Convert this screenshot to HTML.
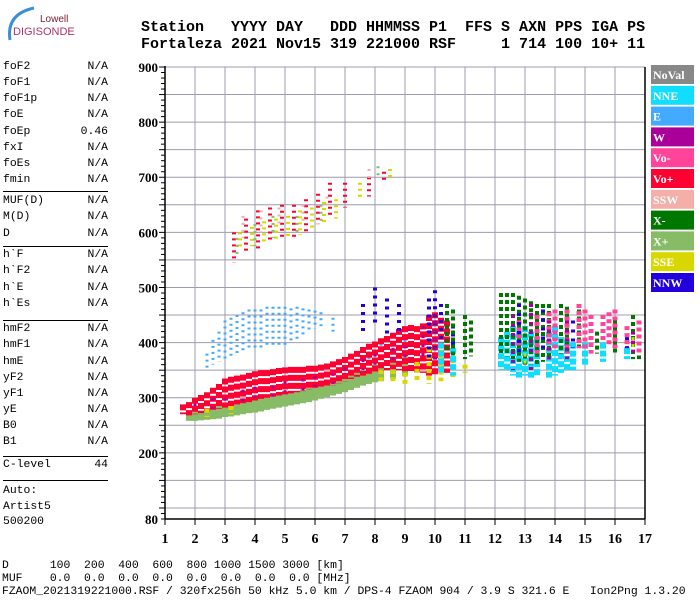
<!DOCTYPE html>
<html><head><meta charset="utf-8">
<style>
body{margin:0;background:#fff;}
#root{position:relative;width:700px;height:600px;overflow:hidden;background:#fff;font-family:"Liberation Mono",monospace;}
.t{position:absolute;white-space:pre;}
.hdr{font:bold 15px "Liberation Mono",monospace;color:#000;}
.lp{font-size:11.4px;color:#000;}
.bt{font-size:11.4px;color:#000;}
</style></head>
<body>
<div id="root">
<svg width="700" height="600" style="position:absolute;left:0;top:0" id="svg">
  <g>
    <path d="M10,40 Q6,14 34,8" stroke="#3a8fd8" stroke-width="3" fill="none"/>
    <text x="40" y="22" font-family="Liberation Sans,sans-serif" font-size="10" fill="#7a2033">Lowell</text>
    <text x="13" y="35" font-family="Liberation Sans,sans-serif" font-size="11" fill="#b0306a">DIGISONDE</text>
  </g>
</svg>
<div class="t hdr" style="left:141px;top:19px">Station   YYYY DAY   DDD HHMMSS P1  FFS S AXN PPS IGA PS</div>
<div class="t hdr" style="left:141px;top:36px">Fortaleza 2021 Nov15 319 221000 RSF     1 714 100 10+ 11</div>
<div id="left"></div>
<div class="t bt" style="left:2px;top:560px">D      100  200  400  600  800 1000 1500 3000 [km]</div>
<div class="t bt" style="left:2px;top:573px">MUF    0.0  0.0  0.0  0.0  0.0  0.0  0.0  0.0 [MHz]</div>
<div class="t bt" style="left:2px;top:586px">FZAOM_2021319221000.RSF / 320fx256h 50 kHz 5.0 km / DPS-4 FZAOM 904 / 3.9 S 321.6 E   Ion2Png 1.3.20</div>
</div>
<script>
// ---- data ----
const xTicks=[1,2,3,4,5,6,7,8,9,10,11,12,13,14,15,16,17];
const yTickLabels=[900,800,700,600,500,400,300,200,80];
const legendNames=["NoVal","NNE","E","W","Vo-","Vo+","SSW","X-","X+","SSE","NNW"];
const legendColors=["#888888","#11ddff","#44aaff","#aa0099","#ff4499","#ff0033","#f4b0a8","#007700","#88bb66","#d8d800","#2200dd"];
const paramNames=["foF2","foF1","foF1p","foE","foEp","fxI","foEs","fmin","MUF(D)","M(D)","D","h`F","h`F2","h`E","h`Es","hmF2","hmF1","hmE","yF2","yF1","yE","B0","B1","C-level"];
const paramValues=["N/A","N/A","N/A","N/A","0.46","N/A","N/A","N/A","N/A","N/A","N/A","N/A","N/A","N/A","N/A","N/A","N/A","N/A","N/A","N/A","N/A","N/A","N/A","44"];
// echo columns: [freq MHz, low km, high km]
const eCloud=[[2.4,350,380],[2.6,360,405],[2.8,365,420],[3,370,440],[3.2,375,445],[3.4,380,450],[3.6,380,455],[3.8,385,460],[4,385,460],[4.2,390,460],[4.4,390,465],[4.6,392,465],[4.8,395,465],[5,395,465],[5.2,398,462],[5.4,400,465],[5.6,410,462],[5.8,420,460],[6,425,458],[6.2,430,455],[6.6,420,445],[7.8,370,395],[8.2,372,398],[8.6,378,402],[9,380,405]];
const xPlusMain=[[1.8,258,275],[2,258,275],[2.2,259,277],[2.4,260,280],[2.6,261,282],[2.8,262,285],[3,265,290],[3.2,266,291],[3.4,268,292],[3.6,270,294],[3.8,272,295],[4,273,298],[4.2,275,300],[4.4,278,302],[4.6,280,305],[4.8,282,308],[5,284,310],[5.2,286,311],[5.4,288,312],[5.6,290,315],[5.8,292,318],[6,295,320],[6.2,298,322],[6.4,301,326],[6.6,304,330],[6.8,307,334],[7,310,338],[7.2,314,342],[7.4,318,345],[7.6,322,350],[7.8,325,355],[8,328,360],[8.2,330,365],[8.6,335,370],[9,340,375]];
const voPlusMain=[[1.6,270,288],[1.8,268,292],[2,270,300],[2.2,272,305],[2.4,275,310],[2.6,278,318],[2.8,280,325],[3,282,335],[3.2,285,338],[3.4,288,340],[3.6,290,342],[3.8,292,345],[4,295,348],[4.2,298,350],[4.4,300,350],[4.6,302,352],[4.8,304,354],[5,306,355],[5.2,308,356],[5.4,310,356],[5.6,312,356],[5.8,314,358],[6,316,358],[6.2,318,360],[6.4,320,362],[6.6,322,366],[6.8,326,370],[7,330,374],[7.2,334,380],[7.4,338,385],[7.6,340,392],[7.8,342,398],[8,345,402],[8.2,348,408],[8.4,350,412],[8.6,352,418],[8.8,350,425],[9,348,430],[9.2,345,432],[9.4,345,430],[9.6,345,435],[9.8,340,450],[10,340,455],[10.2,345,445],[10.4,345,440]];
const wMain=[[2,275,290],[2.6,280,300],[3,285,300],[3.6,290,315],[4,300,320],[4.6,302,322],[5,310,330],[5.6,312,335],[6,320,340],[6.6,325,345],[7,340,355],[7.6,350,370],[8,360,380],[8.6,365,390],[9,370,395],[9.6,370,430]];
const sseMain=[[2.4,265,280],[3.2,270,285],[8.2,330,350],[8.6,330,350],[9,325,345],[9.4,328,365],[9.8,325,390],[10.2,330,400],[10.6,335,370],[11,345,360]];
const nnwMid=[[7.6,420,470],[8,430,500],[8.4,410,480],[8.8,420,470],[9.8,370,480],[10,380,495],[10.2,380,470],[10.6,380,460]];
const nneRight=[[10.2,345,400],[10.6,340,390],[12.2,350,410],[12.4,350,420],[12.6,340,430],[12.8,335,420],[13,340,430],[13.2,335,420],[13.4,340,410],[13.8,335,420],[14,340,430],[14.2,345,410],[14.4,348,405],[14.6,350,400],[15,360,400],[15.6,365,400],[16.4,370,390]];
const xMinusRight=[[10.4,380,470],[10.6,375,460],[11,370,450],[11.2,375,440],[12.2,380,490],[12.4,375,490],[12.6,370,490],[12.8,365,485],[13,360,480],[13.2,360,475],[13.4,360,470],[13.6,365,470],[13.8,370,470],[14.2,380,470],[14.4,380,465],[14.8,390,460],[15.4,380,420],[16,380,440],[16.6,370,450],[16.8,370,440]];
const voMinusRight=[[12.8,390,440],[13.4,380,450],[13.8,385,455],[14,390,460],[14.4,380,460],[14.8,390,470],[15,385,460],[15.2,380,450],[15.6,400,450],[15.8,395,455],[16,390,460],[16.4,390,430],[16.8,380,440]];
const wRight=[[10,360,440],[12.6,350,450],[13.2,350,470],[13.8,360,440],[14.4,370,440],[16.6,380,420]];
const nnwRight=[[12.8,380,470],[13.6,380,460],[14.6,390,440],[16.4,390,410]];
const sseRight=[[13,360,380],[16.6,390,410]];
const voPlusUpper=[[3.3,545,600],[3.7,560,625],[4.1,570,640],[4.5,580,645],[4.9,585,650],[5.3,590,650],[5.7,600,660],[6.1,615,670],[6.5,625,690],[7,645,690],[7.8,665,700],[8.3,690,710]];
const sseUpper=[[3.5,570,600],[3.9,575,610],[4.3,580,620],[4.7,585,625],[5.1,590,630],[5.5,595,640],[5.9,605,645],[6.3,615,655],[6.7,625,660],[7.5,660,690],[8.5,700,715]];
const ssWUpper=[[3.6,590,630],[4.2,600,640],[4.8,610,645],[5.6,620,650],[6.4,640,665],[7.8,690,715]];
const xPlusUpper=[[3.4,560,590],[4,575,615],[4.6,590,630],[5.4,600,630],[6.2,620,650],[8.1,700,720]];

const layers=[
 {d:eCloud,c:"#44aaff",dash:"2 4",w:3},
 {d:voPlusUpper,c:"#ff0033",dash:"2 4",w:4},
 {d:sseUpper,c:"#d8d800",dash:"2 4",w:4},
 {d:ssWUpper,c:"#f4b0a8",dash:"2 5",w:3},
 {d:xPlusUpper,c:"#88bb66",dash:"2 5",w:3},
 {d:xPlusMain,c:"#88bb66",dash:"",w:6},
 {d:voPlusMain,c:"#ff0033",dash:"6 2",w:6},
 {d:wMain,c:"#aa0099",dash:"3 6",w:3},
 {d:sseMain,c:"#d8d800",dash:"4 3",w:5},
 {d:nnwMid,c:"#2200dd",dash:"3 5",w:4},
 {d:nneRight,c:"#11ddff",dash:"6 2",w:6},
 {d:xMinusRight,c:"#007700",dash:"4 3",w:4},
 {d:voMinusRight,c:"#ff4499",dash:"4 3",w:5},
 {d:wRight,c:"#aa0099",dash:"3 6",w:4},
 {d:nnwRight,c:"#2200dd",dash:"3 6",w:4},
 {d:sseRight,c:"#d8d800",dash:"3 4",w:3}
];
// ---- scales ----
const X0=165,X1=645,YB=519,YT=67;
const fx=f=>X0+(f-1)*(X1-X0)/16;
const hy=h=>YB-(h-80)*(YB-YT)/820;
const NS="http://www.w3.org/2000/svg";
const svg=document.getElementById('svg');
function mk(tag,attrs,parent){const e=document.createElementNS(NS,tag);for(const k in attrs)e.setAttribute(k,attrs[k]);(parent||svg).appendChild(e);return e;}
const grid=mk('g',{});


for(let h=100;h<=900;h+=50){const l=mk('line',{x1:X0,x2:X1,y1:hy(h),y2:hy(h),stroke:"#9c9cac","stroke-width":1},grid);

}
for(let f=2;f<=16;f++){const l=mk('line',{x1:fx(f),x2:fx(f),y1:YT,y2:YB,stroke:"#9c9cac","stroke-width":1},grid);

}
const marks=mk('g',{});


layers.forEach(L=>{L.d.forEach(p=>{
 const a={x1:fx(p[0]),x2:fx(p[0]),y1:hy(p[2]),y2:hy(p[1]),stroke:L.c,"stroke-width":L.w};
 if(L.dash)a["stroke-dasharray"]=L.dash;
 const l=mk('line',a,marks);
 
 
});});
// axes
const ax=mk('g',{});


mk('line',{x1:X0,x2:X0,y1:YT-1,y2:YB,stroke:"#000","stroke-width":1.5},ax);
mk('line',{x1:X0,x2:X1,y1:YB,y2:YB,stroke:"#000","stroke-width":1.5},ax);
mk('line',{x1:X1,x2:X1,y1:YT,y2:YB,stroke:"#000","stroke-width":1.5},ax);
for(let h=80;h<=900;h+=10){mk('line',{x1:X0-(h%50===0?6:4),x2:X0,y1:hy(h),y2:hy(h),stroke:"#000","stroke-width":1},ax);}
yTickLabels.forEach(v=>{const t=mk('text',{x:X0-7,y:hy(v)+5,"text-anchor":"end","font-family":"Liberation Serif,serif","font-weight":"bold","font-size":"13"},ax);t.textContent=v;

});
xTicks.forEach(v=>{mk('line',{x1:fx(v),x2:fx(v),y1:YB,y2:YB+6,stroke:"#000","stroke-width":1},ax);
const t=mk('text',{x:fx(v),y:YB+24,"text-anchor":"middle","font-family":"Liberation Serif,serif","font-weight":"bold","font-size":"14"},ax);t.textContent=v;

});
// legend
const lg=mk('g',{});


legendNames.forEach((n,i)=>{const y=65+i*20.8;
 const r=mk('rect',{x:651,y:y,width:43,height:19,fill:legendColors[i]},lg);
 
 
 const t=mk('text',{x:653,y:y+14,"font-family":"Liberation Serif,serif","font-weight":"bold","font-size":"12",fill:"#fff"},lg);t.textContent=n;
 
 
});
// left panel
const ys=[68,84,100,116,133,149,165,181,202,218,235,256,272,289,305,330,346,363,379,395,411,427,443,466];
const left=document.getElementById('left');
paramNames.forEach((n,i)=>{
 const a=document.createElement('div');a.className='t lp';a.style.left='3px';a.style.top=(ys[i]-7)+'px';a.textContent=n;
 
 
 left.appendChild(a);
 const b=document.createElement('div');b.className='t lp';b.style.right=(700-108)+'px';b.style.top=(ys[i]-7)+'px';b.textContent=paramValues[i];
 
 
 left.appendChild(b);
});
[191,246,320,456,480].forEach(y=>{const d=document.createElement('div');d.style.cssText='position:absolute;left:3px;width:105px;height:1px;background:#000;top:'+y+'px';
 
 
 left.appendChild(d);});
[["Auto:",492],["Artist5",508],["500200",523]].forEach(p=>{const a=document.createElement('div');a.className='t lp';a.style.left='3px';a.style.top=(p[1]-7)+'px';a.textContent=p[0];
 
 
 left.appendChild(a);});
</script>
</body></html>
